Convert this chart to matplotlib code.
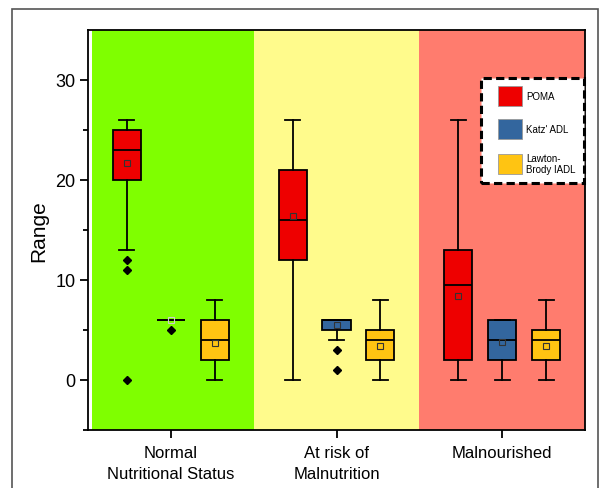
import matplotlib.pyplot as plt
from matplotlib.patches import Rectangle, Patch
from matplotlib.legend_handler import HandlerPatch

plt.rcParams['font.family'] = ['Liberation Sans', 'DejaVu Sans']

groups = ["Normal\nNutritional Status", "At risk of\nMalnutrition", "Malnourished"]
scales = ["POMA", "Katz' ADL", "Lawton-\nBrody IADL"]
scale_colors = ["#EE0000", "#33669E", "#FFC412"]
band_colors = ["#7FFF00", "#FFFB8C", "#FF7C6E"]

# box stats per group, order: POMA, Katz, Lawton
whislo = [[13, 6, 0], [0, 4, 0], [0, 0, 0]]
q1 = [[20, 6, 2], [12, 5, 2], [2, 2, 2]]
med = [[23, 6, 4], [16, 6, 4], [9.5, 4, 4]]
q3 = [[25, 6, 6], [21, 6, 5], [13, 6, 5]]
whishi = [[26, 6, 8], [26, 6, 8], [26, 6, 8]]
means = [[21.7, 6.0, 3.7], [16.4, 5.5, 3.4], [8.4, 3.8, 3.4]]
fliers = [[[12, 11, 0], [5], []], [[], [3, 1], []], [[], [], []]]

fig = plt.figure(figsize=(5.99, 4.89), dpi=100)
fig.patches.append(Rectangle((12 / 599, -0.02), 586 / 599, 1.0, transform=fig.transFigure,
                             fill=False, edgecolor="#555555", linewidth=1.2))
ax = fig.add_axes([88 / 599, 58 / 489, 497 / 599, 400 / 489])

for g in range(3):
    ax.axvspan(g + 0.5 + (0.025 if g == 0 else 0), g + 1.5, color=band_colors[g], zorder=0, lw=0)

offsets = [-0.265, 0, 0.265]
for g in range(3):
    for s in range(3):
        st = dict(whislo=whislo[g][s], q1=q1[g][s], med=med[g][s], q3=q3[g][s],
                  whishi=whishi[g][s], mean=means[g][s], fliers=fliers[g][s])
        mean_edge = "#cccccc" if q1[g][s] == q3[g][s] else "#333333"
        ax.bxp([st], positions=[g + 1 + offsets[s]], widths=0.17, capwidths=0.09,
               patch_artist=True, showmeans=True,
               boxprops=dict(facecolor=scale_colors[s], edgecolor="black", linewidth=1.3),
               medianprops=dict(color="black", linewidth=1.3),
               whiskerprops=dict(color="black", linewidth=1.3),
               capprops=dict(color="black", linewidth=1.3),
               meanprops=dict(marker="s", markerfacecolor="none", markeredgecolor=mean_edge,
                              markersize=4, markeredgewidth=0.8),
               flierprops=dict(marker="D", markerfacecolor="black", markeredgecolor="black",
                               markersize=4.5))

ax.set_xlim(0.5, 3.5)
ax.set_ylim(-5, 35)
ax.set_xticks([1, 2, 3])
ax.set_xticklabels(groups, fontsize=12, linespacing=1.45)
ax.set_yticks([0, 10, 20, 30])
ax.set_yticks([-5, 5, 15, 25], minor=True)
ax.tick_params(axis="y", which="major", labelsize=13, length=6, width=1.3, pad=3)
ax.tick_params(axis="y", which="minor", length=3.5, width=1.3)
ax.tick_params(axis="x", length=6, width=1.3, pad=5)
ax.set_ylabel("Range", fontsize=15, labelpad=5)
for sp in ax.spines.values():
    sp.set_linewidth(1.3)


def shifted_rect(legend, orig_handle, xdescent, ydescent, width, height, fontsize):
    # leave a gap on the left of each colour swatch
    return Rectangle((-xdescent + 6, -ydescent), width - 6, height)


handles = [Patch(facecolor=c, edgecolor="#999999", linewidth=0.6) for c in scale_colors]
leg = ax.legend(handles, scales, loc="upper right", bbox_to_anchor=(0.998, 0.88),
                fontsize=7, frameon=True, fancybox=False, handlelength=3.4,
                handleheight=2.79, labelspacing=1.35, borderpad=0.85, handletextpad=0.4,
                borderaxespad=0, handler_map={Patch: HandlerPatch(patch_func=shifted_rect)})
frame = leg.get_frame()
frame.set_edgecolor("black")
frame.set_linewidth(2.2)
frame.set_linestyle((0, (2.7, 1.4)))
frame.set_alpha(1)

fig.savefig("out.png", dpi=100)
